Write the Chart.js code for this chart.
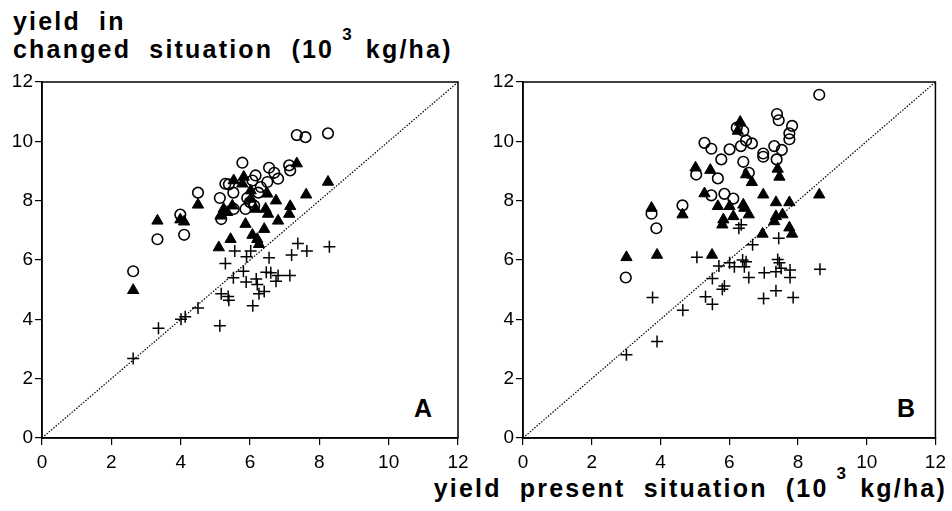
<!DOCTYPE html>
<html>
<head>
<meta charset="utf-8">
<script src="https://cdn.jsdelivr.net/npm/chart.js@4/dist/chart.umd.min.js"></script>
<style>
  body { margin: 0; background: #fff; width: 952px; height: 511px; position: relative; overflow: hidden;
         font-family: "Liberation Sans", Arial, sans-serif; color: #000; }
  canvas { position: absolute; top: 0; }
  .t { position: absolute; font-weight: bold; font-size: 25px; letter-spacing: 2.2px; word-spacing: 9px; white-space: nowrap; line-height: 28px; }
  .sup { font-size: 17px; position: relative; top: -18px; margin: 0 12px 0 8px; }
  .panel { position: absolute; font-weight: bold; font-size: 25px; }
</style>
</head>
<body>
<div class="t" style="left:13px; top:7px;">yield in<br>changed situation (10<span class="sup">3</span>kg/ha)</div>
<div class="t" style="right:5px; top:474px;">yield present situation (10<span class="sup">3</span>kg/ha)</div>
<div class="panel" style="left:414px; top:394px;">A</div>
<div class="panel" style="left:897px; top:394px;">B</div>
<canvas id="chartA" width="476" height="511" style="left:0"></canvas>
<canvas id="chartB" width="476" height="511" style="left:476px"></canvas>
<script>
// tick values shared by both panels
var axisTicks = [0, 2, 4, 6, 8, 10, 12];
var diagX = [0, 12];
var diagY = [0, 12];

// panel A
var aPlusX = [2.63, 3.36, 4.01, 4.13, 4.50, 5.13, 5.17, 5.37, 5.39, 5.29, 5.52, 5.56, 5.81, 5.89, 5.90, 6.02, 6.08, 6.18, 6.21, 6.26, 6.41, 6.47, 6.55, 6.60, 6.75, 6.81, 7.15, 7.20, 7.38, 7.64, 8.29];
var aPlusY = [2.68, 3.70, 4.00, 4.09, 4.38, 3.78, 4.86, 4.77, 4.64, 5.88, 5.40, 6.30, 5.62, 5.26, 6.11, 6.30, 4.46, 5.36, 5.17, 4.86, 4.94, 5.59, 6.08, 5.57, 5.28, 5.48, 5.48, 6.17, 6.56, 6.30, 6.45];
var aTriX = [2.63, 3.33, 3.99, 4.10, 4.50, 5.10, 7.35, 8.25, 5.53, 5.82, 5.78, 6.02, 6.50, 6.75, 7.62, 5.24, 5.49, 5.34, 5.15, 6.02, 6.16, 6.45, 6.52, 7.16, 7.13, 6.81, 5.87, 6.41, 6.07, 5.44, 6.26, 6.21];
var aTriY = [4.98, 7.32, 7.36, 7.29, 7.86, 6.42, 9.25, 8.63, 8.68, 8.80, 8.57, 8.34, 8.23, 8.00, 8.20, 7.72, 7.83, 7.61, 7.49, 8.06, 7.72, 7.72, 7.55, 7.81, 7.55, 7.32, 7.21, 7.04, 6.84, 6.70, 6.53, 6.70];
var aCircX = [2.63, 3.33, 4.10, 3.99, 4.50, 7.35, 7.60, 8.25, 5.78, 6.55, 6.70, 6.81, 7.13, 7.16, 6.16, 6.07, 6.50, 5.29, 5.39, 5.52, 6.31, 6.24, 5.13, 5.92, 6.00, 5.53, 5.17, 6.12, 5.87];
var aCircY = [5.62, 6.70, 6.85, 7.53, 8.27, 10.21, 10.14, 10.27, 9.28, 9.11, 8.94, 8.74, 9.19, 9.02, 8.85, 8.68, 8.63, 8.57, 8.55, 8.27, 8.46, 8.27, 8.09, 8.09, 7.95, 7.72, 7.38, 7.83, 7.72];

// panel B
var bPlusX = [3.01, 3.90, 3.77, 4.65, 5.06, 5.31, 5.51, 5.51, 5.70, 5.80, 5.86, 6.01, 6.15, 6.39, 6.49, 6.44, 6.57, 6.28, 6.35, 6.68, 7.02, 7.00, 7.36, 7.41, 7.46, 7.36, 7.51, 7.77, 7.77, 7.86, 8.64, 7.44];
var bPlusY = [2.81, 3.25, 4.74, 4.31, 6.09, 4.76, 4.51, 5.38, 5.80, 5.01, 5.12, 5.91, 5.77, 6.00, 5.94, 5.77, 5.41, 7.07, 7.19, 6.51, 5.57, 4.70, 4.96, 6.02, 5.91, 5.60, 5.72, 5.66, 5.41, 4.74, 5.69, 6.73];
var bTriX = [6.32, 6.25, 5.02, 5.45, 6.49, 6.66, 7.41, 7.46, 5.28, 6.99, 8.62, 7.36, 7.75, 5.67, 6.01, 6.41, 6.44, 4.64, 3.74, 6.12, 6.57, 5.83, 5.80, 7.36, 7.31, 7.55, 7.75, 7.83, 6.97, 3.01, 3.90, 5.50];
var bTriY = [10.65, 10.35, 9.11, 9.03, 8.88, 8.62, 9.07, 8.80, 8.24, 8.20, 8.20, 7.94, 7.94, 7.81, 7.81, 7.86, 7.75, 7.53, 7.75, 7.47, 7.53, 7.36, 7.19, 7.47, 7.30, 7.53, 7.09, 6.88, 6.88, 6.09, 6.17, 6.17];
var bCircX = [8.62, 7.39, 7.44, 7.83, 7.75, 7.75, 6.22, 6.41, 6.49, 6.66, 6.34, 5.28, 5.48, 6.01, 5.77, 6.41, 6.99, 6.99, 7.31, 7.53, 7.38, 6.57, 5.04, 5.67, 5.48, 5.86, 6.12, 4.64, 3.74, 3.88, 2.99];
var bCircY = [11.57, 10.92, 10.71, 10.52, 10.27, 10.07, 10.46, 10.35, 10.03, 9.93, 9.84, 9.95, 9.75, 9.73, 9.39, 9.31, 9.59, 9.48, 9.84, 9.71, 9.39, 8.94, 8.88, 8.75, 8.18, 8.23, 8.07, 7.84, 7.56, 7.07, 5.41];

function pts(xs, ys) {
    return xs.map(function (x, i) { return { x: x, y: ys[i] }; });
}

// box around the plot area
var framePlugin = {
    id: 'frame',
    beforeDatasetsDraw: function (chart) {
        var a = chart.chartArea, ctx = chart.ctx;
        ctx.save();
        ctx.strokeStyle = '#000';
        ctx.lineWidth = 1.5;
        ctx.strokeRect(a.left, a.top, a.right - a.left, a.bottom - a.top);
        ctx.restore();
    }
};

function makeChart(id, plusX, plusY, triX, triY, circX, circY, yWidth, padRight) {
    var tickFont = { family: '"Liberation Sans", Arial, sans-serif', size: 19 };
    var axis = function (isX) {
        return {
            type: 'linear',
            min: 0,
            max: 12,
            afterBuildTicks: function (s) { s.ticks = axisTicks.map(function (v) { return { value: v }; }); },
            afterFit: function (s) { if (isX) s.height = 53; else s.width = yWidth; },
            ticks: { color: '#000', font: tickFont, padding: isX ? 6 : 2, maxRotation: 0, autoSkip: false },
            grid: { drawOnChartArea: false, drawTicks: true, tickLength: 7, color: '#000', lineWidth: 1.2 },
            border: { display: true, color: '#000', width: 1.5 }
        };
    };
    return new Chart(document.getElementById(id), {
        type: 'scatter',
        data: {
            datasets: [
                {
                    data: pts(diagX, diagY),
                    showLine: true,
                    borderColor: '#000',
                    borderWidth: 1.2,
                    borderDash: [1.5, 1.5],
                    pointRadius: 0
                },
                {
                    data: pts(plusX, plusY),
                    pointStyle: 'cross',
                    pointRadius: 6,
                    borderColor: '#000',
                    borderWidth: 1.5
                },
                {
                    data: pts(circX, circY),
                    pointStyle: 'circle',
                    pointRadius: 5.3,
                    borderColor: '#000',
                    backgroundColor: 'rgba(255,255,255,0)',
                    borderWidth: 1.6
                },
                {
                    data: pts(triX, triY),
                    pointStyle: 'triangle',
                    pointRadius: 6.5,
                    borderColor: '#000',
                    backgroundColor: '#000',
                    borderWidth: 1
                }
            ]
        },
        options: {
            responsive: false,
            animation: false,
            layout: { padding: { top: 82, right: padRight, bottom: 20, left: 0 } },
            plugins: { legend: { display: false }, tooltip: { enabled: false } },
            scales: { x: axis(true), y: axis(false) }
        },
        plugins: [framePlugin]
    });
}

makeChart('chartA', aPlusX, aPlusY, aTriX, aTriY, aCircX, aCircY, 42, 18);
makeChart('chartB', bPlusX, bPlusY, bTriX, bTriY, bCircX, bCircY, 47, 15);
</script>
</body>
</html>
